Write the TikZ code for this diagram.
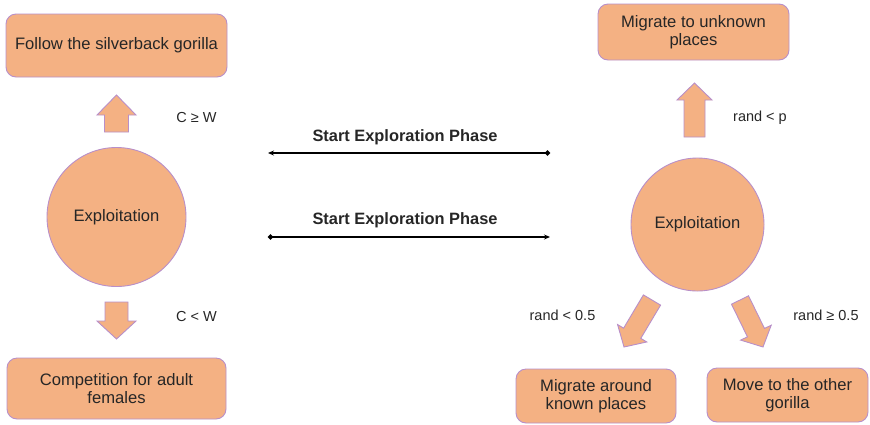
\documentclass[tikz,border=0pt]{standalone}
\usepackage{fontspec}
\setmainfont{Liberation Sans}
\usetikzlibrary{calc,arrows.meta}
\definecolor{peach}{HTML}{F4B183}
\definecolor{lilac}{HTML}{B88FC9}
\definecolor{ink}{HTML}{262626}

% Block arrow from base centre #1 to tip #2: shaft half width #3,
% head half width #4, head length #5
\newcommand\blockarrow[5]{%
  \coordinate (hb) at ($(#2)!#5!(#1)$);
  \draw[blk] ($(#1)!#3!90:(#2)$) -- ($(hb)!#3!90:(#2)$) -- ($(hb)!#4!90:(#2)$)
    -- (#2) -- ($(hb)!#4!-90:(#2)$) -- ($(hb)!#3!-90:(#2)$)
    -- ($(#1)!#3!-90:(#2)$) -- cycle;}

\begin{document}
\begin{tikzpicture}[x=1pt,y=-1pt,
  box/.style={draw=lilac, fill=peach, line width=0.9pt, rounded corners=10pt,
    text=ink, font=\fontsize{16.6}{17.5}\selectfont, align=center, inner sep=0pt},
  state/.style={circle, draw=lilac, fill=peach, line width=0.9pt,
    text=ink, font=\fontsize{16.6}{17.5}\selectfont, inner sep=0pt},
  blk/.style={draw=lilac, fill=peach, line width=0.9pt, line join=miter},
  cond/.style={text=ink, font=\fontsize{14.5}{16}\selectfont, inner sep=0pt},
  phase/.style={text=ink, font=\bfseries\fontsize{16.4}{17.5}\selectfont, inner sep=0pt},
  link/.style={line width=1.4pt, black}
]
\useasboundingbox (0,0) rectangle (870,424);

% Left branch
\node[box, minimum width=221pt, minimum height=63pt] (follow) at (116.5,45.5) {Follow the silverback gorilla};
\node[state, minimum size=139pt] (expL) at (116.5,217) {Exploitation};
\node[box, minimum width=219pt, minimum height=61pt] (compete) at (116.5,388.5) {Competition for adult\\females};

\coordinate (upLb) at (116.5,132); \coordinate (upLt) at (116.5,95);
\blockarrow{upLb}{upLt}{12pt}{19.5pt}{20pt}
\coordinate (dnLb) at (116.5,302); \coordinate (dnLt) at (116.5,339);
\blockarrow{dnLb}{dnLt}{11.5pt}{19.5pt}{18pt}
\node[cond] (cge) at (196.5,118) {C ≥ W};
\node[cond] (clt) at (196.5,317) {C < W};

% Right branch
\node[box, minimum width=191pt, minimum height=56pt] (unknown) at (693.5,32) {Migrate to unknown\\places};
\node[state, minimum size=133pt] (expR) at (697.5,224.5) {Exploitation};
\node[box, minimum width=160pt, minimum height=54pt] (known) at (596,396) {Migrate around\\known places};
\node[box, minimum width=161pt, minimum height=54pt] (other) at (787.5,395) {Move to the other\\gorilla};

\coordinate (upRb) at (694.5,137); \coordinate (upRt) at (694.5,83);
\blockarrow{upRb}{upRt}{10.5pt}{17.5pt}{17pt}
\coordinate (dgLb) at (652,300); \coordinate (dgLt) at (624,347);
\blockarrow{dgLb}{dgLt}{10pt}{17pt}{16pt}
\coordinate (dgRb) at (740,300); \coordinate (dgRt) at (763,347);
\blockarrow{dgRb}{dgRt}{9.5pt}{17pt}{16pt}
\node[cond] (rp) at (760,118) {rand < p};
\node[cond] (rlt) at (562.5,315) {rand < 0.5};
\node[cond] (rge) at (826,315) {rand ≥ 0.5};

% Phase switches
\coordinate (p1r) at (550,153); \coordinate (p1l) at (268,153);
\coordinate (p2l) at (268,237); \coordinate (p2r) at (550,237);
\draw[link, {Circle[length=5pt]}-{Stealth[length=6pt,width=5pt]}] (p1r) -- (p1l);
\draw[link, {Circle[length=5pt]}-{Stealth[length=6pt,width=5pt]}] (p2l) -- (p2r);
\node[phase] (ph1) at (405,137) {Start Exploration Phase};
\node[phase] (ph2) at (405,220) {Start Exploration Phase};
\end{tikzpicture}
\end{document}
